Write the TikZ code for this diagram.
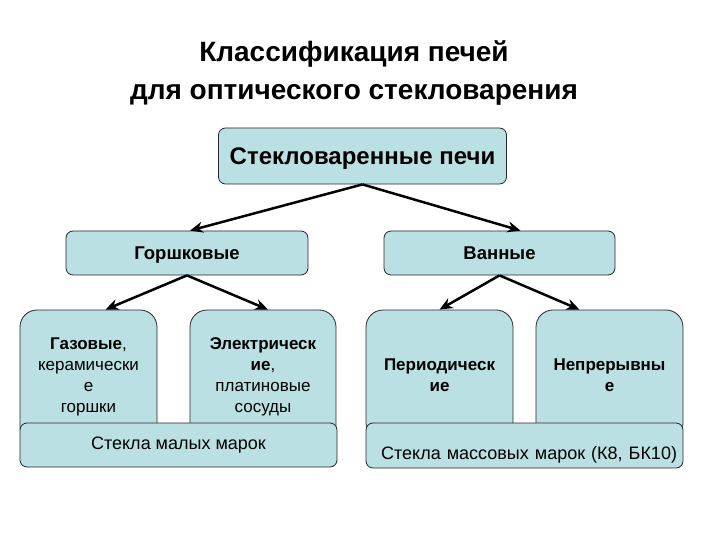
\documentclass[tikz,border=0pt]{standalone}
\usepackage{fontspec}
\setmainfont{Liberation Sans}
\usetikzlibrary{arrows.meta,calc}
\definecolor{boxfill}{RGB}{187,224,227}
\begin{document}
\begin{tikzpicture}[x=1pt,y=-1pt]
		\tikzset{box/.style = {draw=black!85, line width=0.8pt, fill=boxfill, rounded corners=7pt, inner sep=0pt, align=center},
			tallbox/.style = {box, rounded corners=17pt, minimum width=146pt},
			arr/.style = {line width=2.5pt, -{Stealth[length=13pt,width=11pt]}},
			small/.style = {font=\fontsize{17}{21}\selectfont}}

		\useasboundingbox (0,0) rectangle (720,540);

		\node[font=\bfseries\fontsize{28}{38}\selectfont, align=center] (title) at (354,73) {Классификация печей\\для оптического стекловарения};

		\node[box, minimum width=288pt, minimum height=56pt, text depth=0pt, font=\bfseries\fontsize{24}{28}\selectfont] (S) at (362.5,156) {Стекловаренные печи};
		\node[box, minimum width=242pt, minimum height=44pt, text depth=0pt, font=\bfseries\fontsize{18.5}{22}\selectfont] (G) at (187,253) {Горшковые};
		\node[box, minimum width=231pt, minimum height=44pt, text depth=0pt, font=\bfseries\fontsize{18.5}{22}\selectfont] (V) at (499.5,253) {Ванные};

		\node[tallbox, small, minimum width=137pt, minimum height=134pt] (G_1) at (88.5,377) {\textbf{Газовые},\\керамически\\е\\горшки};
		\node[tallbox, small, minimum height=134pt] (G_2) at (263,377) {\textbf{Электрическ}\\\textbf{ие},\\платиновые\\сосуды};
		\node[tallbox, small, minimum width=147pt, minimum height=130pt] (V_1) at (439.5,375) {\textbf{Периодическ}\\\textbf{ие}};
		\node[tallbox, small, minimum width=147pt, minimum height=130pt] (V_2) at (609.5,375) {\textbf{Непрерывны}\\\textbf{е}};

		\node[box, font=\fontsize{18}{22}\selectfont, minimum width=317pt, minimum height=44pt] (M_1) at (178.5,445) {Стекла малых марок};
		\node[box, font=\fontsize{18}{22}\selectfont, minimum width=317pt, minimum height=45pt, text width=305pt, inner xsep=6pt, align=right, text height=31pt, text depth=4pt] (M_2) at (524.5,445.5) {Стекла массовых марок (К8, БК10)};




		\draw[arr] (S.south)--($(G.north)+(3,0)$);
		\draw[arr] (S.south)--($(V.north)+(21,0)$);
		\draw[arr] (G.south)--($(G_1.north)+(17,0)$);
		\draw[arr] (G.south)--($(G_2.north)+(5,0)$);
		\draw[arr] (V.south)--(V_1.north);
		\draw[arr] (V.south)--($(V_2.north)+(-30,0)$);

	\end{tikzpicture}
\end{document}
